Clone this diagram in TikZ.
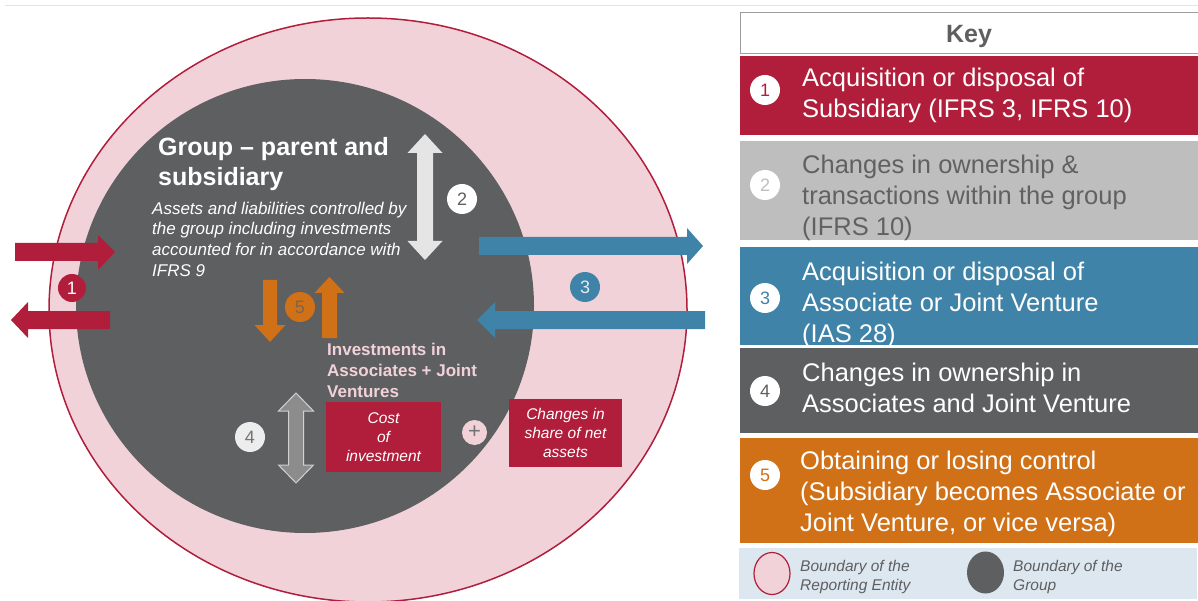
\documentclass[tikz,border=0pt]{standalone}
\usepackage{fontspec}
\setmainfont{Liberation Sans}
\usepackage{tikz}
\usetikzlibrary{positioning,calc}
\definecolor{ifrsred}{RGB}{177,30,59}
\definecolor{ifrsblue}{RGB}{63,131,168}
\definecolor{ifrsorange}{RGB}{208,113,24}
\definecolor{ifrsdark}{RGB}{94,95,97}
\definecolor{ifrspink}{RGB}{242,210,217}
\definecolor{ifrsgray}{RGB}{190,190,190}
\definecolor{ifrsline}{RGB}{227,227,227}
\definecolor{ifrslegend}{RGB}{221,231,239}

\begin{document}
\begin{tikzpicture}
	[x=1pt,y=-1pt,
	num/.style={circle,inner sep=0pt,minimum size=30pt,font=\fontsize{18}{18}\selectfont},
	keybox/.style={rectangle,inner sep=0pt,anchor=north west,minimum width=458pt},
	keytext/.style={anchor=north west,inner sep=0pt,align=left,font=\fontsize{25.5}{31}\selectfont},
	redbox/.style={rectangle,inner sep=0pt,fill=ifrsred,text=white,align=center,font=\fontsize{15.5}{19}\selectfont\itshape},
	legtext/.style={anchor=north west,inner sep=0pt,align=left,text=ifrsdark,font=\fontsize{15.5}{19}\selectfont\itshape}]
	\useasboundingbox (0,0) rectangle (1198,601);
	\draw[ifrsline,line width=1.5pt] (5,5.5) -- (1198,5.5);
	%%%%% BOUNDARIES
	\draw[ifrsred,fill=ifrspink,line width=1.5pt] (368,310) ellipse [x radius=319, y radius=292];
	\fill[ifrsdark] (305,306) ellipse [x radius=229, y radius=227];
	%%%%% ARROWS 1 AND 3
	\fill[ifrsred] (15,243) -- (98,243) -- (98,235) -- (115,252) -- (98,270) -- (98,261) -- (15,261) -- cycle;
	\fill[ifrsred] (110,311) -- (28,311) -- (28,302) -- (11,320) -- (28,338) -- (28,329) -- (110,329) -- cycle;
	\fill[ifrsblue] (479,237) -- (687,237) -- (687,228) -- (703,246) -- (687,264) -- (687,255) -- (479,255) -- cycle;
	\fill[ifrsblue] (705,311) -- (495,311) -- (495,302) -- (477,320) -- (495,338) -- (495,329) -- (705,329) -- cycle;
	%%%%% ARROWS 2, 4 AND 5
	\fill[black!10] (417,153) -- (407.5,153) -- (425,134) -- (442.5,153) -- (433,153) -- (433,241) -- (442.5,241) -- (425,260) -- (407.5,241) -- (417,241) -- cycle;
	\filldraw[fill=black!45,draw=black!18,line width=1pt] (288.5,411) -- (278.5,411) -- (296,393) -- (313.5,411) -- (303.5,411) -- (303.5,465) -- (313.5,465) -- (296,483) -- (278.5,465) -- (288.5,465) -- cycle;
	\fill[ifrsorange] (263,280) -- (277,280) -- (277,325) -- (285.5,325) -- (270,342) -- (254.5,325) -- (263,325) -- cycle;
	\fill[ifrsorange] (322,338) -- (322,293) -- (314.5,293) -- (329.5,277) -- (344.5,293) -- (337,293) -- (337,338) -- cycle;
	%%%%% NUMBERS
	\node[num,fill=ifrsred,text=white,minimum size=28pt] (num1) at (72,288) {1};
	\node[num,fill=white,text=ifrsdark] (num2) at (462,199) {2};
	\node[num,fill=ifrsblue,text=white!85!ifrsblue] (num3) at (585,287) {3};
	\node[num,fill=black!7,text=black!55] (num4) at (250,437) {4};
	\node[num,fill=ifrsorange,text=ifrsdark!70!ifrsorange] (num5) at (300,307) {5};
	\node[circle,inner sep=0pt,minimum size=25pt,fill=ifrspink,text=black!55,font=\fontsize{22}{22}\selectfont] (plus) at (474.5,432.5) {+};
	%%%%% GROUP TEXTS
	\node[anchor=north west,inner sep=0pt,align=left,text=white,font=\fontsize{25}{30}\selectfont\bfseries] (grouptitle) at (158,137) {Group \textendash{} parent and\\subsidiary};
	\node[anchor=north west,inner sep=0pt,align=left,text=white,font=\fontsize{17}{20.7}\selectfont\itshape] (groupdesc) at (152,201.5) {Assets and liabilities controlled by\\the group including investments\\accounted for in accordance with\\IFRS 9};
	\node[anchor=north west,inner sep=0pt,align=left,text=ifrspink,font=\fontsize{17}{21}\selectfont\bfseries] (assoc) at (327,343) {Investments in\\Associates + Joint\\Ventures};
	\node[redbox,minimum width=115pt,minimum height=70pt] (cost) at (383.5,437) {Cost\\of\\investment};
	\node[redbox,minimum width=113pt,minimum height=68pt] (share) at (565.5,433) {Changes in\\share of net\\assets};
	%%%%% KEY
	\node[keybox,draw=black!38,line width=1pt,fill=white,minimum height=41pt] (keyhead) at (740,12) {};
	\node[anchor=base,text=ifrsdark,font=\fontsize{25}{25}\selectfont\bfseries] (keytitle) at (969,43) {Key};
	\foreach \n/\ya/\hh/\col in {1/56/79/ifrsred,2/141/99/ifrsgray,3/247/98/ifrsblue,4/348/85/ifrsdark,5/438/105/ifrsorange}
	{
	\node[keybox,fill=\col,minimum height=\hh pt] (key\n) at (740,\ya) {};
	};
	\foreach \n/\ya/\col in {1/90/ifrsred,2/185/ifrsgray,3/298/ifrsblue,4/391/ifrsdark,5/475/ifrsorange}
	{
	\node[num,fill=white,text=\col] (keynum\n) at (765,\ya) {\n};
	};
	\node[keytext,text=white] (keytext1) at (802,67.5) {Acquisition or disposal of\\Subsidiary (IFRS 3, IFRS 10)};
	\node[keytext,text=black!62] (keytext2) at (802,155) {Changes in ownership \&\\transactions within the group\\(IFRS 10)};
	\node[keytext,text=white] (keytext3) at (802,262) {Acquisition or disposal of\\Associate or Joint Venture\\(IAS 28)};
	\node[keytext,text=white] (keytext4) at (802,363) {Changes in ownership in\\Associates and Joint Venture};
	\node[keytext,text=white] (keytext5) at (800,451) {Obtaining or losing control\\(Subsidiary becomes Associate or\\Joint Venture, or vice versa)};
	%%%%% LEGEND
	\node[keybox,fill=ifrslegend,minimum height=51pt] (legend) at (739,548) {};
	\draw[ifrsred,fill=ifrspink,line width=1.2pt] (772,573.5) ellipse [x radius=18, y radius=21];
	\fill[ifrsdark] (985.5,572.5) ellipse [x radius=18.5, y radius=21];
	\node[legtext] (legentity) at (800,560) {Boundary of the\\Reporting Entity};
	\node[legtext] (leggroup) at (1013,560) {Boundary of the\\Group};
\end{tikzpicture}
\end{document}
